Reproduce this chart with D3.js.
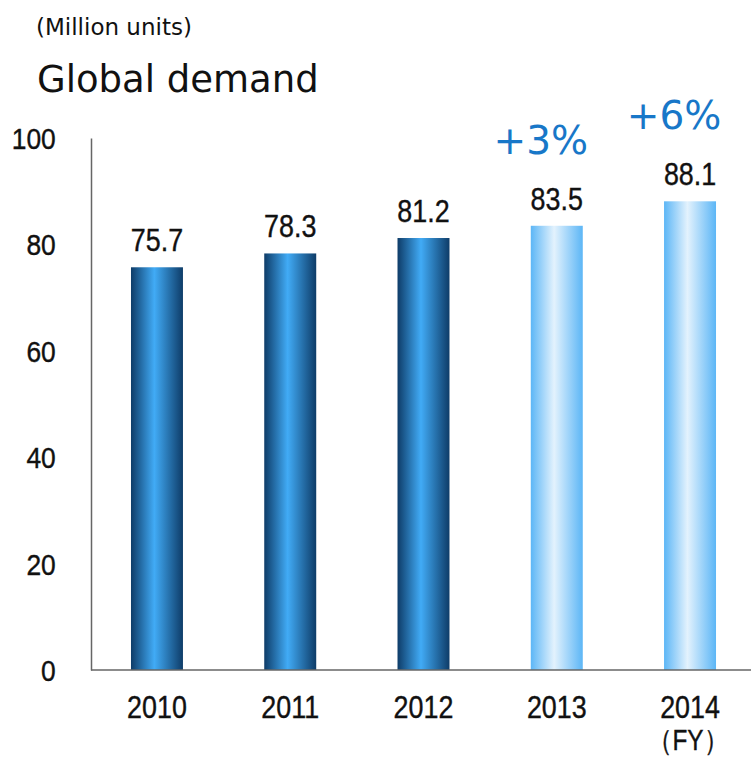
<!DOCTYPE html>
<html>
<head>
<meta charset="utf-8">
<script src="https://cdn.jsdelivr.net/npm/d3@7"></script>
<style>
  body { margin: 0; background: #fff; }
</style>
</head>
<body>
<div id="chart"></div>
<script>
const years = ['2010', '2011', '2012', '2013', '2014'];
const demand = [75.7, 78.3, 81.2, 83.5, 88.1];
const forecast = [false, false, false, true, true];
const growthLabels = ['', '', '', '+3%', '+6%'];
const yTicks = [0, 20, 40, 60, 80, 100];

const width = 751, height = 759;
const narrow = '"Liberation Sans", Arial, sans-serif';
const plain = '"DejaVu Sans", Verdana, sans-serif';
const squeeze = 0.84; // fake a condensed face

const svg = d3.select('#chart')
  .append('svg')
  .attr('width', width)
  .attr('height', height);

// gradients
const defs = svg.append('defs');
const makeGrad = (id, edge, mid) => {
  const g = defs.append('linearGradient')
    .attr('id', id)
    .attr('x1', '0%').attr('x2', '100%')
    .attr('y1', '0%').attr('y2', '0%');
  g.append('stop').attr('offset', '0%').attr('stop-color', edge);
  g.append('stop').attr('offset', '45%').attr('stop-color', mid);
  g.append('stop').attr('offset', '100%').attr('stop-color', edge);
};
makeGrad('actual', '#0e3c68', '#41abf6');
makeGrad('plan', '#5cb6f6', '#e3f2fd');

// scales
const x = d3.scaleBand()
  .domain(years)
  .range([91, 756])
  .paddingInner(0.61)
  .paddingOuter(0.3);
const y = d3.scaleLinear()
  .domain([0, 100])
  .range([670, 138]);

// titles
svg.append('text')
  .attr('x', 36).attr('y', 35)
  .style('font-family', plain)
  .style('font-size', '23px')
  .attr('fill', '#111')
  .text('(Million units)');
svg.append('text')
  .attr('x', 37).attr('y', 92)
  .style('font-family', plain)
  .style('font-size', '37px')
  .attr('fill', '#111')
  .text('Global demand');

// bars
svg.append('g')
  .selectAll('rect')
  .data(demand)
  .enter()
  .append('rect')
  .attr('x', (d, i) => x(years[i]))
  .attr('y', d => y(d))
  .attr('width', x.bandwidth())
  .attr('height', d => y(0) - y(d))
  .attr('fill', (d, i) => forecast[i] ? 'url(#plan)' : 'url(#actual)');

// value labels
svg.append('g')
  .selectAll('text')
  .data(demand)
  .enter()
  .append('text')
  .attr('transform', (d, i) =>
    `translate(${x(years[i]) + x.bandwidth() / 2},${y(d) - 16}) scale(${squeeze},1)`)
  .attr('text-anchor', 'middle')
  .style('font-family', narrow)
  .style('font-size', '32px')
  .attr('fill', '#111')
  .attr('stroke', '#111')
  .attr('stroke-width', 0.4)
  .text(d => d.toFixed(1));

// growth labels
svg.append('g')
  .selectAll('text')
  .data(growthLabels)
  .enter()
  .append('text')
  .attr('x', (d, i) => x(years[i]) + x.bandwidth() / 2 - 16)
  .attr('y', (d, i) => y(demand[i]) - 72)
  .attr('text-anchor', 'middle')
  .style('font-family', plain)
  .style('font-size', '39px')
  .attr('fill', '#1877c8')
  .text(d => d);

// axes
const yAxis = svg.append('g')
  .attr('transform', 'translate(91,0)')
  .call(d3.axisLeft(y).tickValues(yTicks).tickSize(0).tickPadding(40));
yAxis.select('.domain').attr('stroke', '#666').attr('stroke-width', 1.5);
yAxis.selectAll('text')
  .attr('transform', `scale(${squeeze + 0.04},1)`)
  .style('font-family', narrow)
  .style('font-size', '30px')
  .attr('fill', '#111')
  .attr('stroke', '#111')
  .attr('stroke-width', 0.4)
  .attr('dy', '0.35em');

const xAxis = svg.append('g')
  .attr('transform', `translate(0,${y(0)})`)
  .call(d3.axisBottom(x).tickSize(0).tickPadding(25));
xAxis.select('.domain')
  .attr('d', `M91,0H${width}`)
  .attr('stroke', '#666').attr('stroke-width', 1.5);
xAxis.selectAll('text')
  .attr('transform', `scale(${squeeze},1)`)
  .style('font-family', narrow)
  .style('font-size', '32px')
  .attr('fill', '#111')
  .attr('stroke', '#111')
  .attr('stroke-width', 0.4);

svg.append('text')
  .attr('transform', `translate(688,750) scale(${squeeze},1)`)
  .attr('text-anchor', 'middle')
  .style('font-family', narrow)
  .style('font-size', '29px')
  .attr('fill', '#111')
  .attr('stroke', '#111')
  .attr('stroke-width', 0.4)
  .text('（FY）');
</script>
</body>
</html>
